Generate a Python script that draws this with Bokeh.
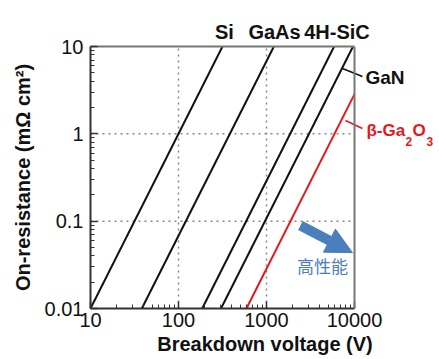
import math
from bokeh.plotting import figure
from bokeh.models import (ColumnDataSource, FixedTicker, Label, Arrow, NormalHead,
                          LogAxis, Span)
from bokeh.embed import file_html
from bokeh.resources import INLINE

# ---- data ----
materials = ["Si", "GaAs", "4H-SiC", "GaN", "β-Ga2O3"]
v_low = [10, 38.3, 186, 304, 592]          # breakdown voltage (V) at lower end
r_low = [0.01, 0.01, 0.01, 0.01, 0.01]     # on-resistance (mΩ cm²) at lower end
v_high = [316, 1213, 5870, 9620, 10000]    # breakdown voltage (V) at upper end
r_high = [10, 10, 10, 10, 2.85]            # on-resistance at upper end

x_ticks = [10, 100, 1000, 10000]
x_tick_labels = ["10", "100", "1000", "10000"]
y_ticks = [0.01, 0.1, 1, 10]
y_tick_labels = ["0.01", "0.1", "1", "10"]

# annotation anchors (data coordinates)
top_label_v = [333, 1233, 6320]            # where the names above the box are centred
gan_leader = [(7300, 5.6), (12300, 4.53)]
ga2o3_leader = [(7900, 1.42), (12300, 1.15)]
perf_arrow = [(2430, 0.0891), (9490, 0.0436)]
perf_text_pos = (4325, 0.0314)
perf_text = "高性能"

BLACK = "#111111"
AXIS = "#333333"
FRAME = "#777777"
GRID = "#888888"
RED = "#e3191f"
BLUE = "#4a7ebd"
FONT = "Liberation Sans"

colors = [BLACK, BLACK, BLACK, BLACK, RED]

W, H = 439, 359
LEFT, TOP, BOTTOM, RIGHT_EDGE = 90, 46, 51, 354
px_per_decade = (RIGHT_EDGE - LEFT) / (math.log10(x_ticks[-1]) - math.log10(x_ticks[0]))
x_end = 10 ** (math.log10(x_ticks[0]) + (W - LEFT) / px_per_decade)

p = figure(width=W, height=H, x_axis_type="log", y_axis_type="log",
           x_range=(x_ticks[0], x_end), y_range=(y_ticks[0], y_ticks[-1]),
           output_backend="svg", toolbar_location=None,
           min_border_left=LEFT, min_border_right=0, min_border_top=TOP,
           min_border_bottom=BOTTOM)
p.background_fill_color = "white"
p.border_fill_color = "white"
p.outline_line_color = None

# dotted grid
p.xgrid.ticker = FixedTicker(ticks=x_ticks[1:-1])
p.xgrid.grid_line_color = GRID
p.xgrid.grid_line_dash = "2 4"
p.xgrid.grid_line_width = 1.5
p.ygrid.visible = False
p.segment(x0=[x_ticks[0]] * 2, x1=[x_ticks[-1]] * 2, y0=y_ticks[1:-1], y1=y_ticks[1:-1],
          line_color=GRID, line_dash="2 4", line_width=1.5, level="underlay")

# right border of the box
p.add_layout(Span(location=x_ticks[-1], dimension="height", line_color=FRAME, line_width=2))

# material lines
src = ColumnDataSource(dict(x0=v_low, y0=r_low, x1=v_high, y1=r_high, c=colors))
p.segment(x0="x0", y0="y0", x1="x1", y1="y1", line_color="c", line_width=2, source=src)

def minor(ticks):
    out = []
    for t in ticks[:-1]:
        for m in range(2, 10):
            out.append(t * m)
    return out

p.xaxis.ticker = FixedTicker(ticks=x_ticks, minor_ticks=minor(x_ticks))
p.yaxis.ticker = FixedTicker(ticks=y_ticks, minor_ticks=minor(y_ticks))
p.xaxis.major_label_overrides = {t: l for t, l in zip(x_ticks, x_tick_labels)}
p.yaxis.major_label_overrides = {t: l for t, l in zip(y_ticks, y_tick_labels)}
p.xaxis.bounds = (x_ticks[0], x_ticks[-1])

for ax in (p.xaxis, p.yaxis):
    ax.axis_line_color = AXIS
    ax.axis_line_width = 2
    ax.major_tick_in = 7
    ax.major_tick_out = 0
    ax.minor_tick_in = 4
    ax.minor_tick_out = 0
    ax.major_tick_line_color = AXIS
    ax.minor_tick_line_color = AXIS
    ax.major_tick_line_width = 1.5
    ax.minor_tick_line_width = 1
    ax.major_label_text_font = FONT
    ax.major_label_text_font_size = "20px"
    ax.major_label_text_color = BLACK
    ax.axis_label_text_font = FONT
    ax.axis_label_text_font_size = "20px"
    ax.axis_label_text_font_style = "bold"
    ax.axis_label_text_color = BLACK
p.xaxis.major_label_standoff = 4
p.yaxis.major_label_standoff = 7
p.xaxis.axis_label = "Breakdown voltage (V)"
p.xaxis.axis_label_standoff = 3
p.yaxis.axis_label = "On-resistance (mΩ cm²)"
p.yaxis.axis_label_standoff = 8

# top border carrying the material names
top = LogAxis(ticker=FixedTicker(ticks=top_label_v, minor_ticks=[]),
              major_label_overrides={v: m for v, m in zip(top_label_v, materials[:3])},
              bounds=(x_ticks[0], x_ticks[-1]))
top.axis_line_color = FRAME
top.axis_line_width = 2
top.major_tick_line_color = None
top.minor_tick_line_color = None
top.major_label_standoff = -2
top.major_label_text_font = FONT
top.major_label_text_font_size = "20px"
top.major_label_text_font_style = "bold"
top.major_label_text_color = BLACK
p.add_layout(top, "above")

# GaN leader + label
p.segment(x0=[gan_leader[0][0]], y0=[gan_leader[0][1]], x1=[gan_leader[1][0]],
          y1=[gan_leader[1][1]], line_color=BLACK, line_width=1.5)
p.add_layout(Label(x=gan_leader[1][0], y=gan_leader[1][1], text=materials[3], x_offset=3,
                   y_offset=-1, text_baseline="alphabetic", text_font=FONT,
                   text_font_style="bold", text_font_size="19px", text_color=BLACK))

# beta-Ga2O3 leader + label (with subscripts)
p.segment(x0=[ga2o3_leader[0][0]], y0=[ga2o3_leader[0][1]], x1=[ga2o3_leader[1][0]],
          y1=[ga2o3_leader[1][1]], line_color=RED, line_width=1.5)
pieces = [("β-Ga", 4, "17px", -2), ("2", 43, "12px", -13), ("O", 50, "17px", -2),
          ("3", 64, "12px", -13)]
for txt, dx, fs, dy in pieces:
    p.add_layout(Label(x=ga2o3_leader[1][0], y=ga2o3_leader[1][1], text=txt, x_offset=dx,
                       y_offset=dy, text_baseline="alphabetic", text_font=FONT,
                       text_font_style="bold", text_font_size=fs, text_color=RED))

# performance arrow + text
p.add_layout(Arrow(x_start=perf_arrow[0][0], y_start=perf_arrow[0][1],
                   x_end=perf_arrow[1][0], y_end=perf_arrow[1][1],
                   end=NormalHead(size=26, fill_color=BLUE, line_color=BLUE, line_width=1),
                   line_color=BLUE, line_width=10))
p.add_layout(Label(x=perf_text_pos[0], y=perf_text_pos[1], text=perf_text,
                   text_align="center", text_baseline="middle",
                   text_font="Noto Sans CJK JP", text_font_size="17px", text_color=BLUE))

open("out.html", "w").write(file_html(p, INLINE))
